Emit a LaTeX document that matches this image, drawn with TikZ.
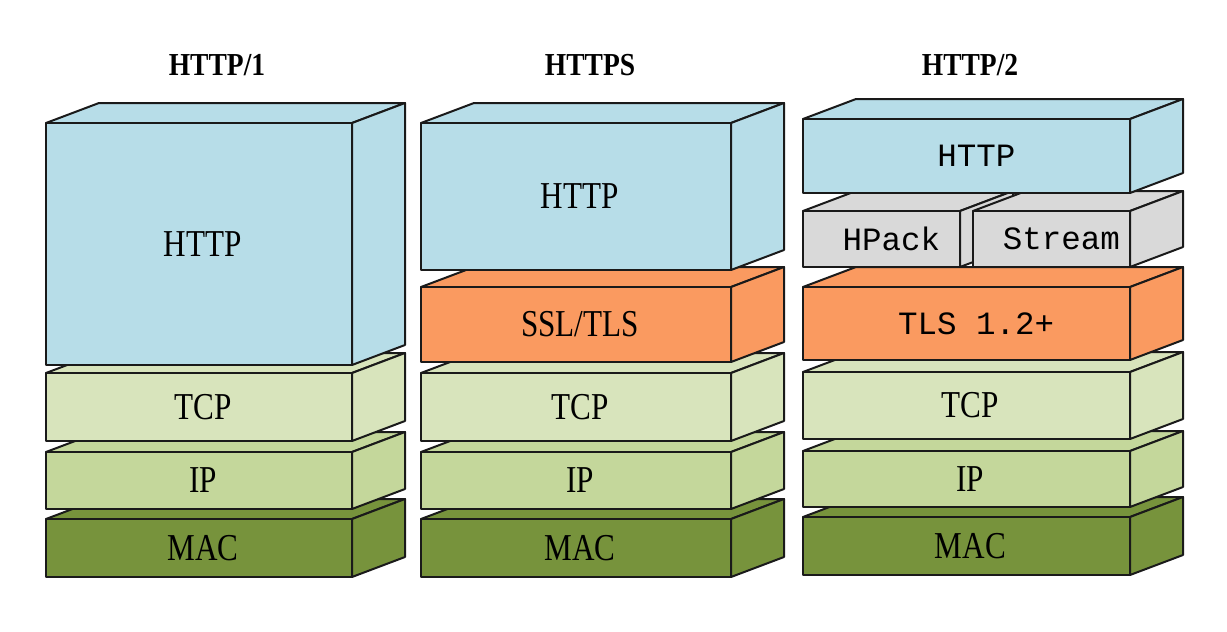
\documentclass[tikz,border=0pt]{standalone}
\usepackage{fontspec}
\setmainfont{Liberation Serif}
\newfontfamily\lblfont{Liberation Serif}[FakeStretch=0.82]
\newfontfamily\ttlfont{Liberation Serif}[FakeStretch=0.86]
\newfontfamily\monolbl{Liberation Mono}
\definecolor{httpblue}{HTML}{B7DDE8}
\definecolor{tlsorange}{HTML}{FA9A60}
\definecolor{tcpgreen}{HTML}{D8E4BC}
\definecolor{ipgreen}{HTML}{C4D79B}
\definecolor{macgreen}{HTML}{77933C}
\definecolor{hgray}{HTML}{D9D9D9}
\definecolor{edge}{HTML}{1A1A1A}
\newcommand\serifsz{\lblfont\fontsize{38}{42}\selectfont}
\newcommand\monosz{\monolbl\fontsize{32.5}{36}\selectfont}
% name, x0, y0, x1, y1, fill, text, font
\newcommand\cuboid[8]{%
  \filldraw[facebox, fill=#6] (#2,#3) -- ({#2+53},{#3-20}) -- ({#4+53},{#3-20}) -- (#4,#3) -- cycle;
  \filldraw[facebox, fill=#6] (#4,#3) -- ({#4+53},{#3-20}) -- ({#4+53},{#5-20}) -- (#4,#5) -- cycle;
  \node[frontface, fill=#6, minimum width={#4-#2}, minimum height={#5-#3}] (#1) at ({(#2+#4)/2},{(#3+#5)/2}) {#8 #7};
}
\begin{document}
\begin{tikzpicture}[x=1pt,y=-1pt,
  facebox/.style={draw=edge, line width=2pt, line join=round},
  frontface/.style={draw=edge, line width=2pt, line join=round, rectangle, inner sep=0pt, text=black},
  title/.style={font=\ttlfont\bfseries\fontsize{32}{36}\selectfont, text=black, inner sep=0pt}]
\useasboundingbox (0,0) rectangle (1227,632);
\fill[white] (0,0) rectangle (1227,632);
% titles
\node[title] (t1) at (217,65) {HTTP/1};
\node[title] (t2) at (590,65) {HTTPS};
\node[title] (t3) at (970,65) {HTTP/2};
% column 1
\cuboid{amac}{46}{519}{352}{577}{macgreen}{MAC}{\serifsz}
\cuboid{aip}{46}{452}{352}{509}{ipgreen}{IP}{\serifsz}
\cuboid{atcp}{46}{373}{352}{441}{tcpgreen}{TCP}{\serifsz}
\cuboid{ahttp}{46}{123}{352}{365}{httpblue}{HTTP}{\serifsz}
% column 2
\cuboid{bmac}{421}{519}{731}{577}{macgreen}{MAC}{\serifsz}
\cuboid{bip}{421}{452}{731}{509}{ipgreen}{IP}{\serifsz}
\cuboid{btcp}{421}{373}{731}{441}{tcpgreen}{TCP}{\serifsz}
\cuboid{btls}{421}{287}{731}{362}{tlsorange}{SSL/TLS}{\serifsz}
\cuboid{bhttp}{421}{123}{731}{270}{httpblue}{HTTP}{\serifsz}
% column 3
\cuboid{cmac}{803}{517}{1130}{575}{macgreen}{MAC}{\serifsz}
\cuboid{cip}{803}{451}{1130}{507}{ipgreen}{IP}{\serifsz}
\cuboid{ctcp}{803}{372}{1130}{439}{tcpgreen}{TCP}{\serifsz}
\cuboid{ctls}{803}{287}{1130}{360}{tlsorange}{TLS 1.2+}{\monosz}
\cuboid{chpack}{803}{211}{960}{267}{hgray}{HPack}{\monosz}
\cuboid{cstream}{973}{211}{1130}{267}{hgray}{Stream}{\monosz}
\cuboid{chttp}{803}{119}{1130}{193}{httpblue}{HTTP}{\monosz}
\end{tikzpicture}
\end{document}
